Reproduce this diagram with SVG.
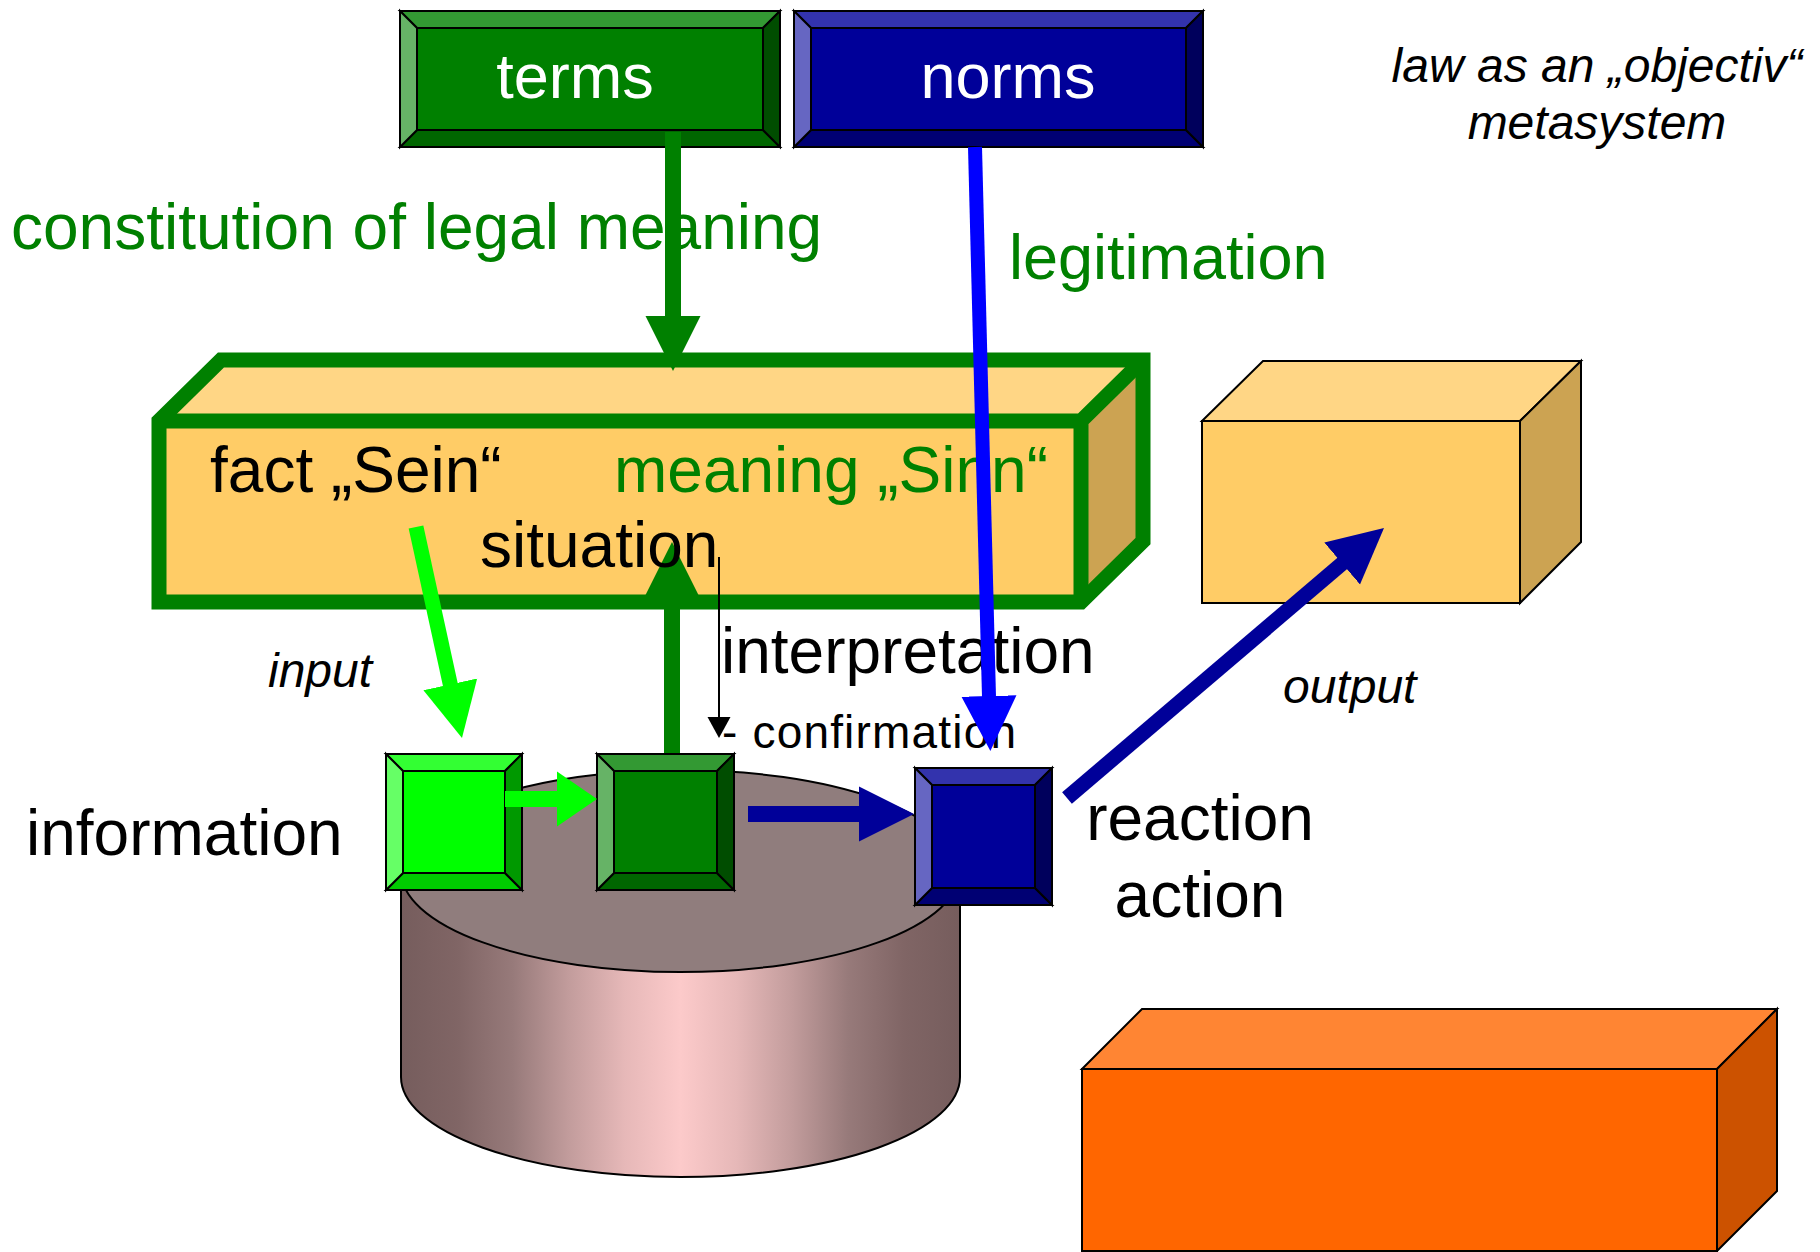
<svg xmlns="http://www.w3.org/2000/svg" width="1820" height="1252" viewBox="0 0 1820 1252">
<style>
text{font-family:"Liberation Sans",Arial,sans-serif}
.k{stroke:#000;stroke-width:2;stroke-linejoin:miter}
.t64{font-size:64px}
.it{font-size:48px;font-style:italic}
.blk{fill:#000}
.grn{fill:#008000}
.wht{fill:#fff;font-size:63px}
.arr{fill:none;stroke-linecap:butt}
.frame{fill:none;stroke:#008000;stroke-width:15;stroke-linejoin:miter}
</style>
<defs>
<linearGradient id="cyl" gradientUnits="userSpaceOnUse" x1="401" y1="0" x2="960" y2="0">
<stop offset="0" stop-color="#765d5d"/>
<stop offset="0.1" stop-color="#806565"/>
<stop offset="0.2" stop-color="#977a7a"/>
<stop offset="0.3" stop-color="#c29c9c"/>
<stop offset="0.4" stop-color="#e6b8b8"/>
<stop offset="0.5" stop-color="#fccaca"/>
<stop offset="0.6" stop-color="#e6b8b8"/>
<stop offset="0.7" stop-color="#c29c9c"/>
<stop offset="0.8" stop-color="#977a7a"/>
<stop offset="0.9" stop-color="#806565"/>
<stop offset="1" stop-color="#765d5d"/>
</linearGradient>
<marker id="hg" viewBox="0 -28 56 56" markerWidth="56" markerHeight="56" refX="1" refY="0" orient="auto" markerUnits="userSpaceOnUse"><path d="M0,-27.5 L55,0 L0,27.5 Z" fill="#008000"/></marker>
<marker id="hb" viewBox="0 -28 56 56" markerWidth="56" markerHeight="56" refX="1" refY="0" orient="auto" markerUnits="userSpaceOnUse"><path d="M0,-27.5 L55,0 L0,27.5 Z" fill="#0000ff"/></marker>
<marker id="hn" viewBox="0 -28 56 56" markerWidth="56" markerHeight="56" refX="1" refY="0" orient="auto" markerUnits="userSpaceOnUse"><path d="M0,-27.5 L55,0 L0,27.5 Z" fill="#000099"/></marker>
<marker id="hl" viewBox="0 -28 56 56" markerWidth="56" markerHeight="56" refX="1" refY="0" orient="auto" markerUnits="userSpaceOnUse"><path d="M0,-27.5 L55,0 L0,27.5 Z" fill="#00ff00"/></marker>
<marker id="hls" viewBox="0 -28 56 56" markerWidth="56" markerHeight="56" refX="1" refY="0" orient="auto" markerUnits="userSpaceOnUse"><path d="M0,-27.5 L40,0 L0,27.5 Z" fill="#00ff00"/></marker>
<marker id="hk" viewBox="0 -12 22 24" markerWidth="22" markerHeight="24" refX="1" refY="0" orient="auto" markerUnits="userSpaceOnUse"><path d="M0,-11.5 L21,0 L0,11.5 Z" fill="#000"/></marker>
</defs>
<rect width="1820" height="1252" fill="#fff"/>

<g id="cylinder">
<path class="k" d="M401,871 L401,1077 A279.5,100 0 0 0 960,1077 L960,871 Z" fill="url(#cyl)"/>
<ellipse class="k" cx="680.5" cy="871" rx="279.5" ry="101" fill="#907d7d"/>
</g>

<g id="situation-box">
<polygon points="159,421 221,360 1143,360 1081,421" fill="#ffd685"/>
<polygon points="1081,421 1143,360 1143,541 1081,602" fill="#cca352"/>
<rect x="159" y="421" width="922" height="181" fill="#ffcc66"/>
<path class="frame" d="M159,602 L159,421 L221,360 L1143,360 L1143,541 L1081,602 Z"/>
<path class="frame" d="M159,421 L1081,421 L1081,602 M1081,421 L1143,360"/>
<text class="t64 blk" x="210" y="492">fact „Sein“</text>
</g>

<g id="output-box">
<polygon class="k" points="1202,421 1263,361 1581,361 1520,421" fill="#ffd685"/>
<polygon class="k" points="1520,421 1581,361 1581,542 1520,603" fill="#cca352"/>
<rect class="k" x="1202" y="421" width="318" height="182" fill="#ffcc66"/>
</g>

<g id="action-box">
<polygon class="k" points="1082,1069 1142,1009 1777,1009 1717,1069" fill="#ff8533"/>
<polygon class="k" points="1717,1069 1777,1009 1777,1191 1717,1251" fill="#cc5200"/>
<rect class="k" x="1082" y="1069" width="635" height="182" fill="#ff6600"/>
</g>

<g id="terms">
<polygon class="k" points="400,11 780,11 763,28 417,28" fill="#339933"/>
<polygon class="k" points="400,147 780,147 763,130 417,130" fill="#006600"/>
<polygon class="k" points="400,11 417,28 417,130 400,147" fill="#66b366"/>
<polygon class="k" points="780,11 763,28 763,130 780,147" fill="#004d00"/>
<rect class="k" x="417" y="28" width="346" height="102" fill="#008000"/>
<text class="wht" x="575" y="98" text-anchor="middle">terms</text>
</g>

<g id="norms">
<polygon class="k" points="794,11 1203,11 1186,28 811,28" fill="#3333ad"/>
<polygon class="k" points="794,147 1203,147 1186,130 811,130" fill="#000073"/>
<polygon class="k" points="794,11 811,28 811,130 794,147" fill="#6666c2"/>
<polygon class="k" points="1203,11 1186,28 1186,130 1203,147" fill="#00005c"/>
<rect class="k" x="811" y="28" width="375" height="102" fill="#000099"/>
<text class="wht" x="1008" y="98" text-anchor="middle">norms</text>
</g>

<g id="information-node">
<polygon class="k" points="386,754 522,754 505,771 403,771" fill="#33ff33"/>
<polygon class="k" points="386,890 522,890 505,873 403,873" fill="#00cc00"/>
<polygon class="k" points="386,754 403,771 403,873 386,890" fill="#66ff66"/>
<polygon class="k" points="522,754 505,771 505,873 522,890" fill="#009900"/>
<rect class="k" x="403" y="771" width="102" height="102" fill="#00ff00"/>
</g>

<g id="interpretation-node">
<polygon class="k" points="597,754 734,754 717,771 614,771" fill="#339933"/>
<polygon class="k" points="597,890 734,890 717,873 614,873" fill="#006600"/>
<polygon class="k" points="597,754 614,771 614,873 597,890" fill="#66b366"/>
<polygon class="k" points="734,754 717,771 717,873 734,890" fill="#004d00"/>
<rect class="k" x="614" y="771" width="103" height="102" fill="#008000"/>
</g>

<g id="reaction-node">
<polygon class="k" points="915,768 1052,768 1035,785 932,785" fill="#3333ad"/>
<polygon class="k" points="915,905 1052,905 1035,888 932,888" fill="#000073"/>
<polygon class="k" points="915,768 932,785 932,888 915,905" fill="#6666c2"/>
<polygon class="k" points="1052,768 1035,785 1035,888 1052,905" fill="#00005c"/>
<rect class="k" x="932" y="785" width="103" height="103" fill="#000099"/>
</g>

<g id="labels-under">
<text class="t64 grn" x="11" y="249">constitution of legal meaning</text>
<text class="t64 grn" x="614" y="492">meaning „Sinn“</text>
<text class="t64 blk" x="721" y="673">interpretation</text>
<text class="blk" x="722" y="748" font-size="46" textLength="294" lengthAdjust="spacing">- confirmation</text>
</g>

<g id="connectors">
<line class="arr" x1="673" y1="132" x2="673" y2="317" stroke="#008000" stroke-width="16" marker-end="url(#hg)"/>
<line class="arr" x1="672" y1="753" x2="672" y2="596" stroke="#008000" stroke-width="16" marker-end="url(#hg)"/>
<line class="arr" x1="719" y1="557" x2="719" y2="718" stroke="#000" stroke-width="2" marker-end="url(#hk)"/>
<line class="arr" x1="416" y1="527" x2="450.5" y2="685.3" stroke="#00ff00" stroke-width="15" marker-end="url(#hl)"/>
<line class="arr" x1="505" y1="799" x2="558" y2="799" stroke="#00ff00" stroke-width="16" marker-end="url(#hls)"/>
<line class="arr" x1="748" y1="814" x2="860" y2="814" stroke="#000099" stroke-width="16" marker-end="url(#hn)"/>
<line class="arr" x1="975" y1="147" x2="989" y2="697" stroke="#0000ff" stroke-width="14" marker-end="url(#hb)"/>
<line class="arr" x1="1067" y1="798" x2="1342.9" y2="562.9" stroke="#000099" stroke-width="15" marker-end="url(#hn)"/>
</g>

<g id="labels">
<text class="t64 blk" x="480" y="567" font-size="63">situation</text>
<text class="grn" x="1009" y="279" font-size="63">legitimation</text>
<text class="it blk" x="1597" y="82" text-anchor="middle">law as an „objectiv“</text>
<text class="it blk" x="1597" y="139" text-anchor="middle">metasystem</text>
<text class="it blk" x="268" y="687">input</text>
<text class="t64 blk" x="26" y="855">information</text>
<text class="it blk" x="1283" y="703">output</text>
<text class="t64 blk" x="1200" y="840" text-anchor="middle">reaction</text>
<text class="t64 blk" x="1200" y="917" text-anchor="middle">action</text>
</g>
</svg>
